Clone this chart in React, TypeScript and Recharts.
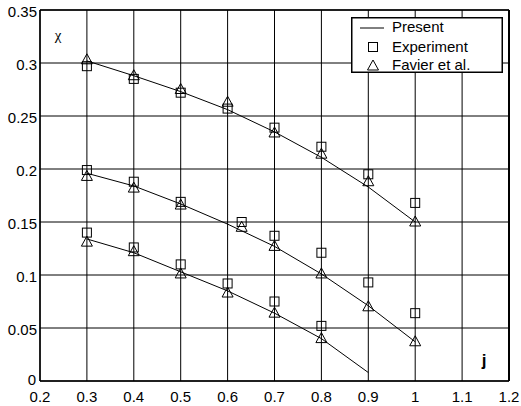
import { ComposedChart, Line, Scatter, XAxis, YAxis, CartesianGrid, ReferenceLine } from 'recharts';

// j positions where each curve is sampled
const jTop = [0.3, 0.4, 0.5, 0.6, 0.7, 0.8, 0.9, 1.0];
const jMid = [0.3, 0.4, 0.5, 0.6, 0.7, 0.8, 0.9, 1.0];
const jMidPts = [0.3, 0.4, 0.5, 0.63, 0.7, 0.8, 0.9, 1.0];
const jLow = [0.3, 0.4, 0.5, 0.6, 0.7, 0.8, 0.9];
const jLowPts = [0.3, 0.4, 0.5, 0.6, 0.7, 0.8];

// Present (model) curves
const presentTop = [0.302, 0.288, 0.273, 0.256, 0.235, 0.211, 0.183, 0.150];
const presentMid = [0.196, 0.184, 0.167, 0.148, 0.127, 0.101, 0.071, 0.037];
const presentLow = [0.134, 0.121, 0.103, 0.085, 0.064, 0.040, 0.008];

// Experiment
const experimentTop = [0.297, 0.285, 0.272, 0.257, 0.239, 0.221, 0.195, 0.168];
const experimentMid = [0.199, 0.188, 0.169, 0.150, 0.137, 0.121, 0.093, 0.064];
const experimentLow = [0.140, 0.126, 0.110, 0.092, 0.075, 0.052];

// Favier et al.
const favierTop = [0.303, 0.288, 0.275, 0.263, 0.234, 0.214, 0.188, 0.150];
const favierMid = [0.193, 0.182, 0.166, 0.145, 0.127, 0.101, 0.070, 0.037];
const favierLow = [0.131, 0.122, 0.101, 0.083, 0.064, 0.040];

const xTicks = [0.2, 0.3, 0.4, 0.5, 0.6, 0.7, 0.8, 0.9, 1.0, 1.1, 1.2];
const yTicks = [0, 0.05, 0.1, 0.15, 0.2, 0.25, 0.3, 0.35];

const toPoints = (xs: number[], ys: number[]) => xs.map((x, i) => ({ x, y: ys[i] }));

const FONT = '"Liberation Sans", Arial, sans-serif';

const Square = (props: any) => {
  const { cx, cy } = props;
  return <rect x={cx - 4.5} y={cy - 4.5} width={9} height={9} fill="none" stroke="#000" strokeWidth={1} />;
};

const Triangle = (props: any) => {
  const { cx, cy } = props;
  return (
    <polygon
      points={`${cx},${cy - 6} ${cx - 5.5},${cy + 4} ${cx + 5.5},${cy + 4}`}
      fill="none"
      stroke="#000"
      strokeWidth={1}
    />
  );
};

const XTick = ({ x, y, payload }: any) => (
  <text x={x} y={y + 21} textAnchor="middle" fontSize={15} fontFamily={FONT} fill="#000">
    {String(payload.value)}
  </text>
);

// the zero label sits a bit higher so it clears the first x label
const YTick = ({ x, y, payload }: any) => (
  <text
    x={payload.value === 0 ? x - 4 : x - 3}
    y={payload.value === 0 ? y + 4 : y + 7}
    textAnchor="end"
    fontSize={15}
    fontFamily={FONT}
    fill="#000"
  >
    {String(payload.value)}
  </text>
);

const presentSets = [toPoints(jTop, presentTop), toPoints(jMid, presentMid), toPoints(jLow, presentLow)];
const experimentSets = [toPoints(jTop, experimentTop), toPoints(jMidPts, experimentMid), toPoints(jLowPts, experimentLow)];
const favierSets = [toPoints(jTop, favierTop), toPoints(jMidPts, favierMid), toPoints(jLowPts, favierLow)];

export default function App() {
  return (
    <div style={{ position: 'absolute', left: 0, top: 0, width: 521, height: 406, background: '#fff' }}>
      <ComposedChart width={521} height={406} margin={{ top: 10, right: 12, bottom: 0, left: 0 }}>
        <CartesianGrid stroke="#000" strokeWidth={1} />
        <XAxis
          type="number"
          dataKey="x"
          domain={[0.2, 1.2]}
          ticks={xTicks}
          height={25}
          tickSize={0}
          tickMargin={0}
          tickLine={false}
          axisLine={{ stroke: '#000', strokeWidth: 1.5 }}
          tick={<XTick />}
          allowDataOverflow
        />
        <YAxis
          type="number"
          dataKey="y"
          domain={[0, 0.35]}
          ticks={yTicks}
          width={40}
          tickSize={0}
          tickMargin={0}
          tickLine={false}
          axisLine={{ stroke: '#000', strokeWidth: 1.5 }}
          tick={<YTick />}
          allowDataOverflow
        />
        <ReferenceLine y={0.35} stroke="#000" strokeWidth={1.5} />
        <ReferenceLine x={1.2} stroke="#000" strokeWidth={2} />
        {presentSets.map((d, i) => (
          <Line
            key={`present-${i}`}
            data={d}
            dataKey="y"
            stroke="#000"
            strokeWidth={1}
            dot={false}
            activeDot={false}
            isAnimationActive={false}
          />
        ))}
        {experimentSets.map((d, i) => (
          <Scatter key={`exp-${i}`} data={d} dataKey="y" shape={<Square />} isAnimationActive={false} />
        ))}
        {favierSets.map((d, i) => (
          <Scatter key={`fav-${i}`} data={d} dataKey="y" shape={<Triangle />} isAnimationActive={false} />
        ))}
      </ComposedChart>

      <svg
        width={521}
        height={406}
        style={{ position: 'absolute', left: 0, top: 0, pointerEvents: 'none' }}
      >
        <text x={58} y={40} textAnchor="middle" fontSize={15} fontFamily='"Liberation Serif", serif' fill="#000">
          χ
        </text>
        <text x={484} y={366} textAnchor="middle" fontSize={17} fontWeight="bold" fontFamily={FONT} fill="#000">
          j
        </text>
        <g transform="translate(351,17)">
          <rect x={0.75} y={0.75} width={150.5} height={54.5} fill="#fff" stroke="#000" strokeWidth={1.5} />
          <line x1={9} y1={11} x2={33} y2={11} stroke="#000" strokeWidth={1} />
          <text x={41} y={15} fontSize={15} fontFamily={FONT} fill="#000">Present</text>
          <rect x={17.5} y={25.5} width={9} height={9} fill="none" stroke="#000" strokeWidth={1} />
          <text x={41} y={35} fontSize={15} fontFamily={FONT} fill="#000">Experiment</text>
          <polygon points="22,43 16.5,53 27.5,53" fill="none" stroke="#000" strokeWidth={1} />
          <text x={41} y={53} fontSize={15} fontFamily={FONT} fill="#000">Favier et al.</text>
        </g>
      </svg>
    </div>
  );
}
